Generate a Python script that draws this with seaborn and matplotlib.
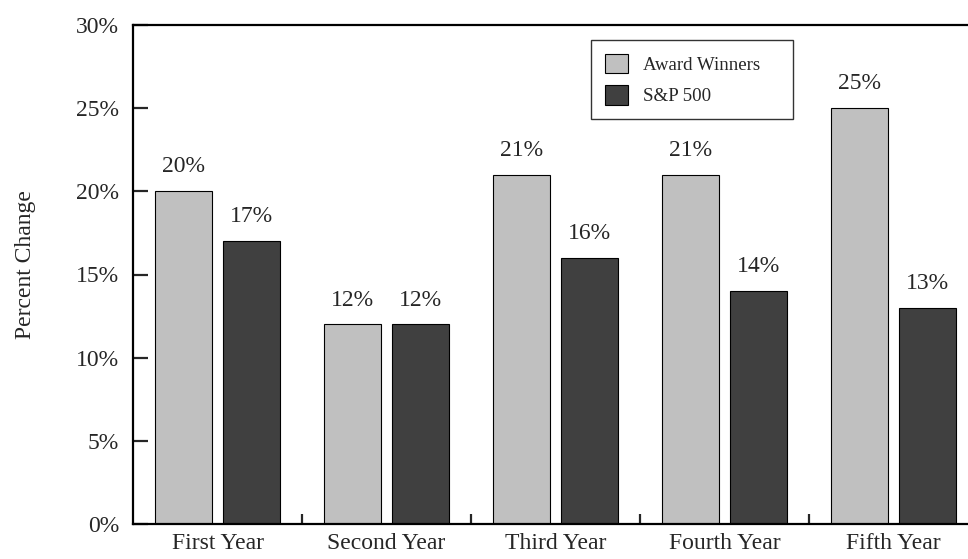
import matplotlib
matplotlib.use("Agg")
import pandas as pd
import seaborn as sns
from matplotlib import pyplot as plt
from matplotlib.ticker import FixedLocator

years = ["First Year", "Second Year", "Third Year", "Fourth Year", "Fifth Year"]
award_winners = [20, 12, 21, 21, 25]
sp500 = [17, 12, 16, 14, 13]
series_names = ["Award Winners", "S&P 500"]
colors = ["#c0c0c0", "#404040"]


def main():
    df = pd.DataFrame({
        "year": years * 2,
        "series": [series_names[0]] * len(years) + [series_names[1]] * len(years),
        "pct": award_winners + sp500,
    })

    sns.set_style("ticks")
    plt.rcParams["font.family"] = ["Liberation Serif", "DejaVu Serif"]

    fig = plt.figure(figsize=(9.68, 5.59), dpi=100)
    # right edge goes past the figure, like the reference which is clipped
    ax = fig.add_axes([133 / 968, 1 - 524 / 559, 845 / 968, 499 / 559])

    sns.barplot(data=df, x="year", y="pct", hue="series", order=years,
                hue_order=series_names, palette=colors, width=0.81, gap=0.168,
                edgecolor="black", linewidth=0.8, saturation=1, ax=ax)

    for cont in ax.containers:
        ax.bar_label(cont, labels=[f"{int(round(b.get_height()))}%" for b in cont],
                     padding=10, fontsize=17)

    ax.set_ylim(0, 30)
    ax.set_xlim(-0.5, len(years) - 0.5)
    ax.set_yticks(range(0, 31, 5))
    ax.set_yticklabels([f"{v}%" for v in range(0, 31, 5)], fontsize=17)
    ax.tick_params(axis="y", direction="in", length=11, width=1.6, pad=10)
    ax.tick_params(axis="x", which="major", length=0, pad=6.5, labelsize=17)
    ax.xaxis.set_minor_locator(FixedLocator([i + 0.5 for i in range(len(years) - 1)]))
    ax.tick_params(axis="x", which="minor", direction="in", length=7, width=1.6)

    for side in ["left", "bottom", "top"]:
        ax.spines[side].set_linewidth(1.6)
        ax.spines[side].set_color("black")
    ax.spines["right"].set_visible(False)

    ax.set_xlabel("")
    ax.set_ylabel("Percent Change", fontsize=17)
    ax.yaxis.set_label_coords(-0.115, 0.519)

    leg = ax.legend(loc="upper left", bbox_to_anchor=(0.542, 0.5, 0.239, 0.47),
                    mode="expand", frameon=True, fancybox=False, edgecolor="black",
                    fontsize=13.6, handlelength=1.2, handleheight=1.2,
                    borderpad=0.75, labelspacing=0.58, handletextpad=0.8,
                    borderaxespad=0)
    leg.get_frame().set_linewidth(1.0)

    fig.savefig("out.png", dpi=100)
    plt.close(fig)


if __name__ == "__main__":
    main()
